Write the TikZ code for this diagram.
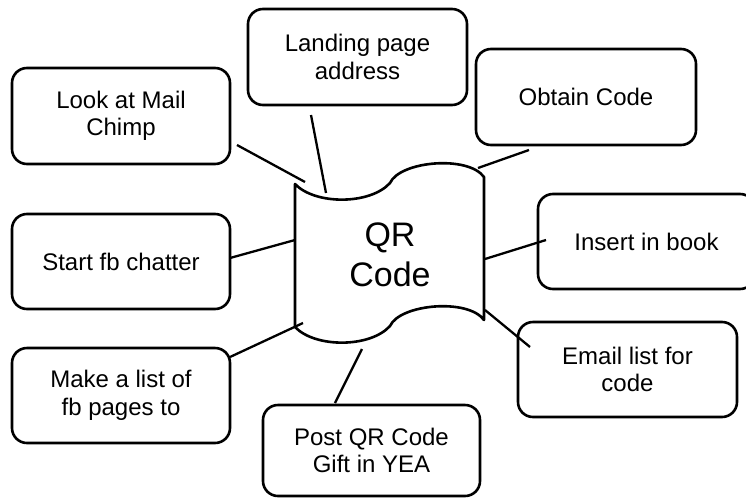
\documentclass[tikz,border=0pt]{standalone}
\usepackage{fontspec}
\setmainfont{Liberation Sans}
\begin{document}
\begin{tikzpicture}[x=1pt,y=-1pt,
  box/.style={draw, line width=2.6pt, rounded corners=15pt, align=center, inner sep=0pt,
    font=\fontsize{24}{27.5}\selectfont},
  link/.style={line width=2.3pt},
  tapeline/.style={line width=2.6pt, line join=round}]
\useasboundingbox (0,0) rectangle (746,498);
% boxes
\node[box, minimum width=218pt, minimum height=96pt] (chimp)  at (121,116)   {Look at Mail\\Chimp};
\node[box, minimum width=219pt, minimum height=96pt] (land)   at (357.5,57)  {Landing page\\address};
\node[box, minimum width=220pt, minimum height=96pt] (obtain) at (586,97)    {Obtain Code};
\node[box, minimum width=218pt, minimum height=95pt] (start)  at (121,261.5) {Start fb chatter};
\node[box, minimum width=217pt, minimum height=95pt] (insert) at (646.5,241.5) {Insert in book};
\node[box, minimum width=218pt, minimum height=95pt] (make)   at (121,395.5) {Make a list of\\fb pages to};
\node[box, minimum width=219pt, minimum height=95pt] (email)  at (627.5,369.5) {Email list for\\code};
\node[box, minimum width=217pt, minimum height=91pt] (post)   at (371.5,450.5) {Post QR Code\\Gift in YEA};
% central tape shape
\draw[tapeline] (295,184) .. controls (315,205) and (370,205) .. (390,183)
  .. controls (400,161) and (468,155) .. (484,177) -- (484,320)
  .. controls (468,298) and (400,304) .. (390,326)
  .. controls (370,348) and (315,348) .. (295,327) -- cycle;
\node[align=center, inner sep=0pt, font=\fontsize{34}{40}\selectfont] (qr) at (390,255) {QR\\Code};
% connector end points
\coordinate (chimpEnd) at (237,145);  \coordinate (qrA) at (305,182);
\coordinate (landEnd)  at (311,115);  \coordinate (qrB) at (326,193);
\coordinate (obtainEnd) at (529,150); \coordinate (qrC) at (478,168);
\coordinate (insertEnd) at (546,240); \coordinate (qrD) at (485,259);
\coordinate (emailEnd) at (530,347);  \coordinate (qrE) at (485,310);
\coordinate (postEnd)  at (335,403);  \coordinate (qrF) at (362,349);
\coordinate (makeEnd)  at (230,357);  \coordinate (qrG) at (303,323);
\coordinate (startEnd) at (230,258);  \coordinate (qrH) at (295,240);
% connectors
\draw[link] (chimpEnd) -- (qrA);
\draw[link] (landEnd) -- (qrB);
\draw[link] (obtainEnd) -- (qrC);
\draw[link] (insertEnd) -- (qrD);
\draw[link] (emailEnd) -- (qrE);
\draw[link] (postEnd) -- (qrF);
\draw[link] (makeEnd) -- (qrG);
\draw[link] (startEnd) -- (qrH);
\end{tikzpicture}
\end{document}
